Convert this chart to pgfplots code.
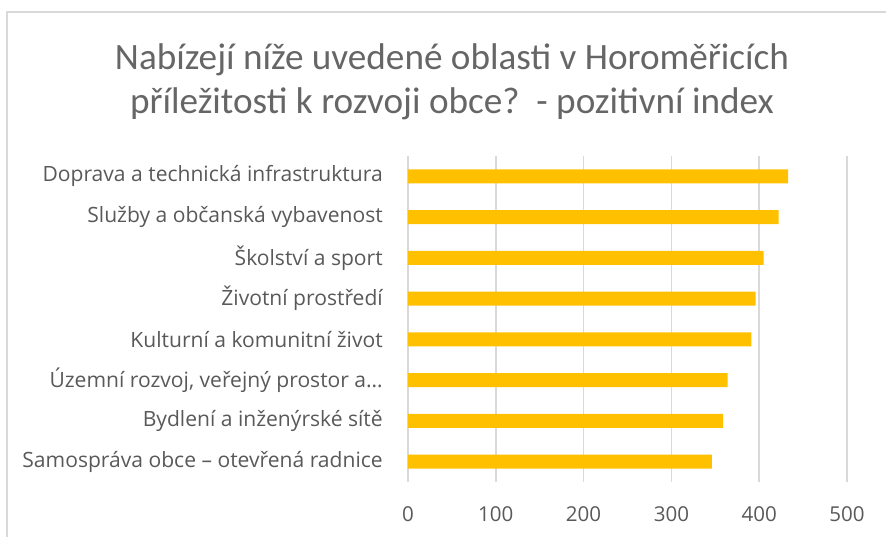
\documentclass[border=0pt]{standalone}
\usepackage{pgfplots}
\pgfplotsset{compat=1.18}
\usepackage{fontspec}
\setmainfont{Open Sans}
\newfontfamily\titlefont{Carlito}
\definecolor{barc}{HTML}{FFC000}
\definecolor{txt}{HTML}{595959}
\definecolor{ttl}{HTML}{666666}
\definecolor{grd}{HTML}{D9D9D9}
\begin{document}
\begin{tikzpicture}
\begin{scope}[x=0.75pt,y=0.75pt]
\path[use as bounding box] (0,0) rectangle (886,537);
\draw[grd, line width=1.1pt] (7,0) -- (7,525) -- (886,525);
\node[anchor=base, text=ttl, inner sep=0pt, font=\titlefont\fontsize{27.9}{32}\selectfont] at (452,467) {Nabízejí níže uvedené oblasti v Horoměřicích};
\node[anchor=base, text=ttl, inner sep=0pt, font=\titlefont\fontsize{27.9}{32}\selectfont] at (452,423.5) {příležitosti k rozvoji obce?\ \ - pozitivní index};
\end{scope}
\begin{axis}[
  at={(306pt,41.25pt)}, anchor=south west,
  scale only axis, width=329.25pt, height=244.5pt,
  xmin=0, xmax=500, ymin=-0.5, ymax=7.5,
  enlargelimits=false,
  xbar, bar width=10.5pt,
  axis line style={draw=none},
  major tick length=0pt,
  xtick={0,100,200,300,400,500},
  ytick={0,1,2,3,4,5,6,7},
  yticklabels={Samospráva obce – otevřená radnice, Bydlení a inženýrské sítě, {Územní rozvoj, veřejný prostor a…}, Kulturní a komunitní život, Životní prostředí, Školství a sport, Služby a občanská vybavenost, Doprava a technická infrastruktura},
  xmajorgrids, major grid style={grd, line width=1.1pt},
  /pgf/number format/assume math mode=true,
  yticklabel style={text=txt, font=\fontsize{15.8}{19}\selectfont, inner sep=0pt, anchor=east, xshift=-18.75pt},
  xticklabel style={text=txt, font=\fontsize{15.4}{18}\selectfont, inner sep=0pt, anchor=north, yshift=-18pt},
]
\addplot[fill=barc, draw=none] coordinates {
(346,0) (359,1) (364,2) (391,3) (396,4) (405,5) (422,6) (433,7)
};
\end{axis}
\end{tikzpicture}
\end{document}
